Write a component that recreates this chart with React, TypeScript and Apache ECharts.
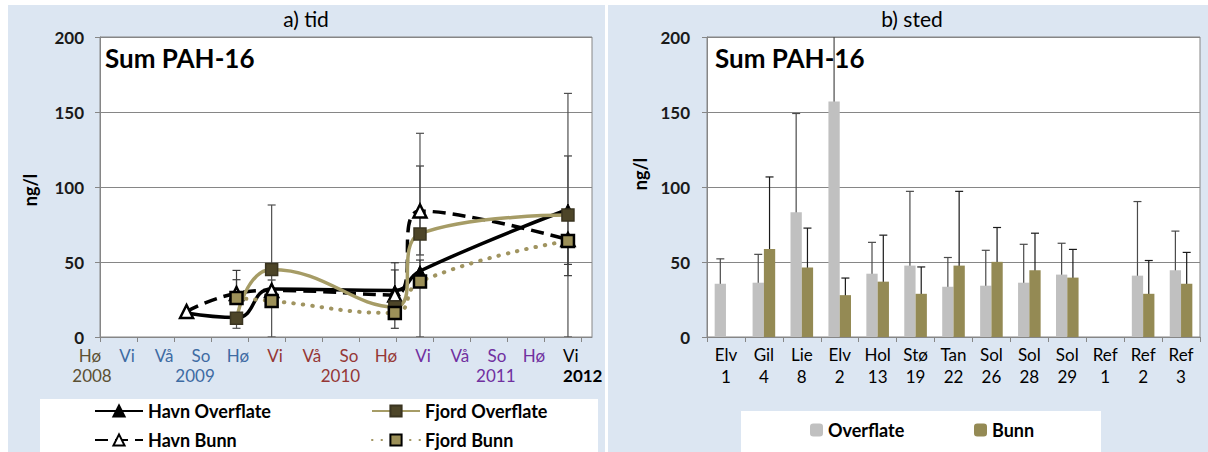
import React, { useEffect, useRef } from "react";
import * as echarts from "echarts";

const FONT = "Lato, 'Open Sans', sans-serif";

// ---------- a) tid ----------
const seasonLabels = ["Hø", "Vi", "Vå", "So", "Hø", "Vi", "Vå", "So", "Hø", "Vi", "Vå", "So", "Hø", "Vi"];
const seasonColors = ["#5b5033", "#3e6ba3", "#3e6ba3", "#3e6ba3", "#3e6ba3", "#953735", "#953735", "#953735", "#953735", "#7030a0", "#7030a0", "#7030a0", "#7030a0", "#000000"];
const yearLabels = ["2008", "2009", "2010", "2011", "2012"];
const yearPositions = [0, 2.57, 6.5, 10.7, 13.05];
const yearColors = ["#5b5033", "#3e6ba3", "#953735", "#7030a0", "#000000"];

const sampleTimes = [2.34, 3.69, 4.64, 7.97, 8.65, 12.65];
const havnOverflate = [16, 13, 32, 31, 44, 85];
const havnBunn = [17, 29, 31, 28, 84, 65];
const fjordOverflate = [null, 12.5, 45, 20, 68.7, 81.3];
const fjordBunn = [null, 26, 24, 16, 37, 64];

const havnOverflateLo = [null, null, 32, null, null, 48.4];
const havnOverflateHi = [null, null, 38, null, null, 120.7];
const havnBunnLo = [null, 29, null, 5.8, 54.7, null];
const havnBunnHi = [null, 44.4, null, 49.5, 114, null];
const fjordOverflateLo = [null, 5.8, 0, null, 0, 0];
const fjordOverflateHi = [null, 12.5, 88, null, 135.8, 162.4];
const fjordBunnLo = [null, 26, null, 15.8, 37, 40.9];
const fjordBunnHi = [null, 38.2, null, 44.7, 51.3, 64];

// ---------- b) sted ----------
const stations = ["Elv\n1", "Gil\n4", "Lie\n8", "Elv\n2", "Hol\n13", "Stø\n19", "Tan\n22", "Sol\n26", "Sol\n28", "Sol\n29", "Ref\n1", "Ref\n2", "Ref\n3"];
const overflate = [35.5, 36.2, 83.1, 157, 42.2, 47.6, 33.5, 34.2, 36.2, 41.6, null, 40.9, 44.5];
const overflateLo = [17.5, 16.2, 16.9, 0, 21.6, 0, 13.7, 10.1, 9.4, 20.2, null, 0, 16.9];
const overflateHi = [52.1, 55.1, 149, 240, 63.1, 97.1, 53, 57.8, 61.8, 62.5, null, 90.3, 70.6];
const bunn = [null, 58.7, 46.3, 27.9, 36.9, 28.8, 47.6, 50.1, 44.5, 39.6, null, 28.8, 35.5];
const bunnLo = [null, 10.8, 19.8, 16.2, 5.4, 10.1, 0, 26.5, 18.2, 20.2, null, 6.1, 14.8];
const bunnHi = [null, 106.7, 72.6, 39.3, 67.9, 46.7, 97.1, 73, 69.2, 58.4, null, 51, 56.4];

const yTicks = [0, 50, 100, 150, 200];

const GRID_COLOR = "#868686";
const BAR_W = 11.3;
const X_MAX = 13.3;
const tickValues = seasonLabels.map((_, i) => i);

function pairs(xs: number[], ys: (number | null)[]) {
  const out: number[][] = [];
  ys.forEach((y, i) => {
    if (y !== null) out.push([xs[i], y]);
  });
  return out;
}

function errRows(xs: number[], lo: (number | null)[], hi: (number | null)[]) {
  const out: number[][] = [];
  lo.forEach((l, i) => {
    const h = hi[i];
    if (l !== null && h !== null) out.push([xs[i], l, h]);
  });
  return out;
}

function errorSeries(data: number[][], xAxisIndex: number, yAxisIndex: number, color: string, offset: number) {
  return {
    type: "custom",
    xAxisIndex,
    yAxisIndex,
    clip: true,
    z: 1,
    silent: true,
    data,
    renderItem: (_params: any, api: any) => {
      const p1 = api.coord([api.value(0), api.value(1)]);
      const p2 = api.coord([api.value(0), api.value(2)]);
      const x = p1[0] + offset;
      const cap = 4;
      const style = { stroke: color, lineWidth: 1.2 };
      return {
        type: "group",
        children: [
          { type: "line", shape: { x1: x, y1: p1[1], x2: x, y2: p2[1] }, style },
          { type: "line", shape: { x1: x - cap, y1: p1[1], x2: x + cap, y2: p1[1] }, style },
          { type: "line", shape: { x1: x - cap, y1: p2[1], x2: x + cap, y2: p2[1] }, style },
        ],
      };
    },
  };
}

const yAxisBase = (gridIndex: number, margin: number) => ({
  type: "value",
  gridIndex,
  min: 0,
  max: 200,
  interval: 50,
  axisLine: { show: true, lineStyle: { color: GRID_COLOR, width: 1 } },
  axisTick: { show: true, length: 5, lineStyle: { color: GRID_COLOR } },
  splitLine: { show: true, lineStyle: { color: GRID_COLOR, width: 1 } },
  axisLabel: {
    fontFamily: FONT,
    fontSize: 17,
    fontWeight: "bold",
    color: "#1a1a1a",
    margin,
    customValues: yTicks,
  },
});

export default function App() {
  const ref = useRef<HTMLDivElement>(null);

  useEffect(() => {
    if (!ref.current) return;
    const chart = echarts.init(ref.current, undefined, { renderer: "svg" });

    const idx = stations.map((_, i) => i);
    const legendText = { fontFamily: FONT, fontSize: 18, fontWeight: "bold", color: "#000" };

    const option: any = {
      animation: false,
      backgroundColor: "#ffffff",
      textStyle: { fontFamily: FONT },
      graphic: {
        elements: [
          { type: "rect", z: -10, shape: { x: 8, y: 5, width: 597, height: 447 }, style: { fill: "#dce6f2" } },
          { type: "rect", z: -10, shape: { x: 608, y: 5, width: 600, height: 447 }, style: { fill: "#dce6f2" } },
          { type: "rect", z: -5, shape: { x: 40, y: 399, width: 558, height: 53 }, style: { fill: "#ffffff" } },
          { type: "rect", z: -5, shape: { x: 741, y: 411, width: 360, height: 41 }, style: { fill: "#ffffff" } },
          {
            type: "text", z: 10, x: 306, y: 18,
            style: { text: "a) tid", fontFamily: FONT, fontSize: 21, fontWeight: "normal", fill: "#000", textAlign: "center", textVerticalAlign: "middle" },
          },
          {
            type: "text", z: 10, x: 912, y: 18,
            style: { text: "b) sted", fontFamily: FONT, fontSize: 21, fontWeight: "normal", fill: "#000", textAlign: "center", textVerticalAlign: "middle" },
          },
          {
            type: "text", z: 10, x: 105, y: 58,
            style: { text: "Sum PAH-16", fontFamily: FONT, fontSize: 26, fontWeight: "bold", fill: "#000", textVerticalAlign: "middle" },
          },
          {
            type: "text", z: 10, x: 715, y: 58,
            style: { text: "Sum PAH-16", fontFamily: FONT, fontSize: 26, fontWeight: "bold", fill: "#000", textVerticalAlign: "middle" },
          },
          {
            type: "text", z: 10, x: 30, y: 190, rotation: Math.PI / 2,
            style: { text: "ng/l", fontFamily: FONT, fontSize: 18, fontWeight: "bold", fill: "#000", textAlign: "center", textVerticalAlign: "middle" },
          },
          {
            type: "text", z: 10, x: 640, y: 174, rotation: Math.PI / 2,
            style: { text: "ng/l", fontFamily: FONT, fontSize: 18, fontWeight: "bold", fill: "#000", textAlign: "center", textVerticalAlign: "middle" },
          },
        ],
      },
      grid: [
        { left: 100, top: 37, width: 492, height: 300, show: true, backgroundColor: "#ffffff", borderColor: GRID_COLOR, borderWidth: 1, containLabel: false },
        { left: 707, top: 37, width: 493, height: 300, show: true, backgroundColor: "#ffffff", borderColor: GRID_COLOR, borderWidth: 1, containLabel: false },
      ],
      xAxis: [
        {
          type: "value", gridIndex: 0, min: 0, max: X_MAX, position: "bottom",
          axisLine: { show: true, onZero: false, lineStyle: { color: GRID_COLOR } },
          axisTick: { show: true, length: 5, lineStyle: { color: GRID_COLOR }, customValues: tickValues },
          axisLabel: { show: false },
          splitLine: { show: false },
        },
        {
          type: "value", gridIndex: 0, min: 0, max: X_MAX, position: "bottom",
          axisLine: { show: false, onZero: false },
          axisTick: { show: false },
          splitLine: { show: false },
          axisLabel: {
            show: true,
            customValues: tickValues,
            fontFamily: FONT,
            fontSize: 17,
            margin: 10,
            padding: [0, 20, 0, 0],
            formatter: (v: number) => seasonLabels[Math.round(v)] ?? "",
            color: (v: any) => seasonColors[Math.round(Number(v))] ?? "#000",
          },
        },
        {
          type: "value", gridIndex: 0, min: 0, max: X_MAX, position: "bottom",
          axisLine: { show: false, onZero: false },
          axisTick: { show: false },
          splitLine: { show: false },
          axisLabel: {
            show: true,
            customValues: yearPositions,
            fontFamily: FONT,
            fontSize: 17,
            margin: 30,
            formatter: (v: number) => {
              const k = yearPositions.findIndex((p) => Math.abs(p - v) < 0.01);
              if (k === 0) return "{first|" + yearLabels[0] + "}";
              if (k === yearLabels.length - 1) return "{last|" + yearLabels[k] + "}";
              return k >= 0 ? yearLabels[k] : "";
            },
            color: (v: any) => {
              const k = yearPositions.findIndex((p) => Math.abs(p - Number(v)) < 0.01);
              return k >= 0 ? yearColors[k] : "#000";
            },
            rich: {
              first: { fontFamily: FONT, fontSize: 17, color: yearColors[0], padding: [0, 16, 0, 0] },
              last: { fontFamily: FONT, fontSize: 17, fontWeight: "bold", color: yearColors[4] },
            },
          },
        },
        {
          type: "category", gridIndex: 1, data: stations, position: "bottom",
          axisLine: { show: true, onZero: false, lineStyle: { color: GRID_COLOR } },
          axisTick: { show: true, length: 5, alignWithLabel: false, lineStyle: { color: GRID_COLOR } },
          axisLabel: { interval: 0, fontFamily: FONT, fontSize: 17, lineHeight: 22, margin: 6, color: "#000" },
          splitLine: { show: false },
        },
      ],
      yAxis: [yAxisBase(0, 16), yAxisBase(1, 17)],
      legend: [
        {
          data: ["Havn Overflate", "Havn Bunn"], orient: "vertical", left: 94, top: 402, padding: 0,
          itemWidth: 48, itemHeight: 14, itemGap: 11,
          textStyle: legendText,
        },
        {
          data: ["Fjord Overflate", "Fjord Bunn"], orient: "vertical", left: 371, top: 402, padding: 0,
          itemWidth: 48, itemHeight: 14, itemGap: 11,
          textStyle: legendText,
        },
        {
          data: ["Overflate"], left: 810, top: 421, padding: 0, itemWidth: 13, itemHeight: 13,
          textStyle: legendText,
        },
        {
          data: ["Bunn"], left: 974, top: 421, padding: 0, itemWidth: 13, itemHeight: 13,
          textStyle: legendText,
        },
      ],
      series: [
        errorSeries(errRows(sampleTimes, havnOverflateLo, havnOverflateHi), 0, 0, "#3a3a3a", 0),
        errorSeries(errRows(sampleTimes, havnBunnLo, havnBunnHi), 0, 0, "#3a3a3a", 0),
        errorSeries(errRows(sampleTimes, fjordOverflateLo, fjordOverflateHi), 0, 0, "#505050", 0),
        errorSeries(errRows(sampleTimes, fjordBunnLo, fjordBunnHi), 0, 0, "#3a3a3a", 0),
        {
          name: "Havn Overflate", type: "line", xAxisIndex: 0, yAxisIndex: 0, smooth: true, z: 3,
          data: pairs(sampleTimes, havnOverflate),
          symbol: "triangle", symbolSize: 11,
          lineStyle: { color: "#000", width: 3.5 },
          itemStyle: { color: "#000", borderColor: "#000", borderWidth: 1 },
        },
        {
          name: "Havn Bunn", type: "line", xAxisIndex: 0, yAxisIndex: 0, smooth: true, z: 4,
          data: pairs(sampleTimes, havnBunn),
          symbol: "triangle", symbolSize: 13,
          lineStyle: { color: "#000", width: 3.5, type: [13, 7] },
          itemStyle: { color: "#ffffff", borderColor: "#000", borderWidth: 2.5 },
        },
        {
          name: "Fjord Overflate", type: "line", xAxisIndex: 0, yAxisIndex: 0, smooth: true, z: 5,
          data: pairs(sampleTimes, fjordOverflate),
          symbol: "rect", symbolSize: 12,
          lineStyle: { color: "#a69c66", width: 3.5 },
          itemStyle: { color: "#4d4528", borderColor: "#3a3420", borderWidth: 1.5 },
        },
        {
          name: "Fjord Bunn", type: "line", xAxisIndex: 0, yAxisIndex: 0, smooth: true, z: 6,
          data: pairs(sampleTimes, fjordBunn),
          symbol: "rect", symbolSize: 12,
          lineStyle: { color: "#a09460", width: 4, type: [0.5, 9], cap: "round" },
          itemStyle: { color: "#9c9058", borderColor: "#000", borderWidth: 2.5 },
        },
        {
          name: "Overflate", type: "bar", xAxisIndex: 3, yAxisIndex: 1, barWidth: BAR_W, barGap: "0%",
          data: overflate, itemStyle: { color: "#c0c0c0" }, z: 2,
        },
        {
          name: "Bunn", type: "bar", xAxisIndex: 3, yAxisIndex: 1, barWidth: BAR_W, barGap: "0%",
          data: bunn, itemStyle: { color: "#948a54" }, z: 2,
        },
        errorSeries(errRows(idx, overflateLo, overflateHi), 3, 1, "#4a4a4a", -BAR_W / 2),
        errorSeries(errRows(idx, bunnLo, bunnHi), 3, 1, "#1a1a1a", BAR_W / 2),
      ],
    };

    chart.setOption(option);
    return () => chart.dispose();
  }, []);

  return <div ref={ref} style={{ position: "fixed", left: 0, top: 0, width: 1208, height: 452 }} />;
}
